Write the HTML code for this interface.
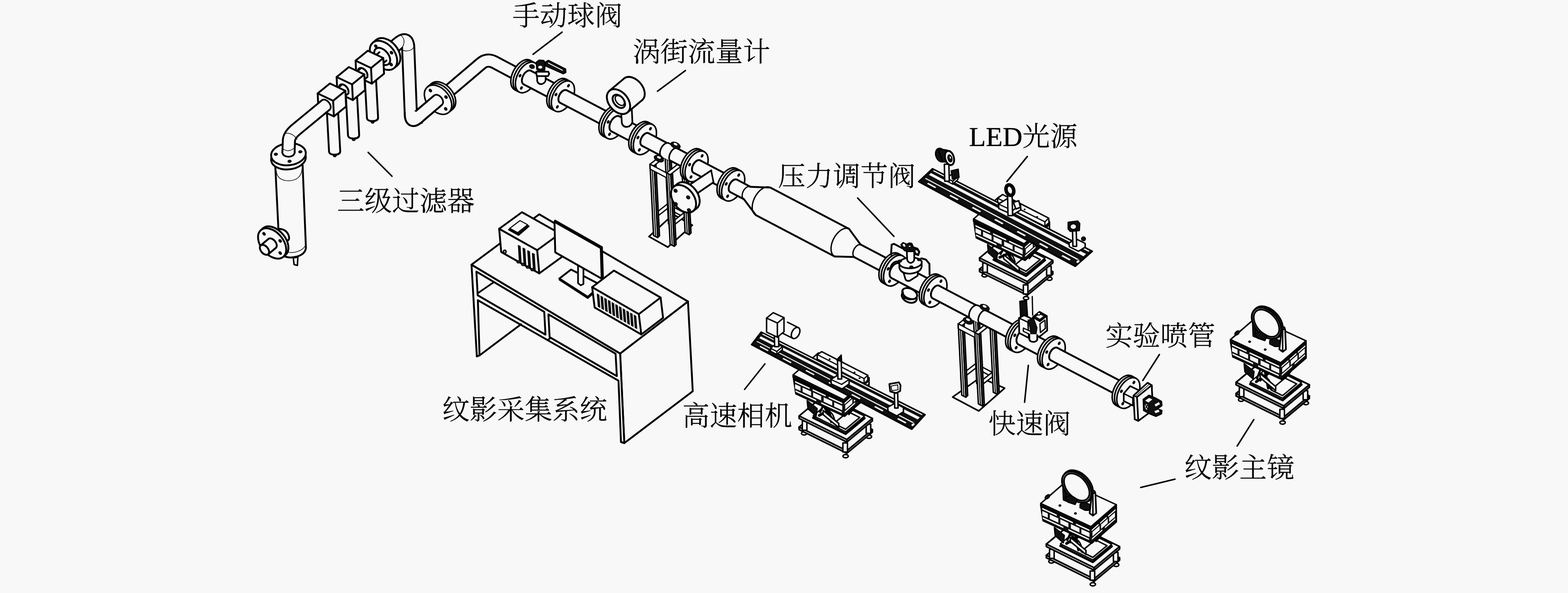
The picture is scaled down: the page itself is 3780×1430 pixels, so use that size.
<!DOCTYPE html>
<html lang="zh"><head><meta charset="utf-8"><title>纹影实验系统</title>
<style>html,body{margin:0;padding:0;background:#f8f8f8;}body{width:3780px;height:1430px;overflow:hidden;}svg{display:block;}text{font-family:"Liberation Serif","Noto Serif CJK SC",serif;font-weight:300;fill:#000;stroke:#000;stroke-width:0.45px;}</style></head>
<body>
<svg width="3780" height="1430" viewBox="0 0 3780 1430" fill="#f8f8f8" stroke="#000" stroke-width="4.5" stroke-linecap="round" stroke-linejoin="round">
<path d="M663.5 398 L673.5 600 Q676 621 702 621 Q735 618 737.5 598 L729.5 398 Z"/>
<path d="M674 600 Q690 612 712 608 Q732 603 737 590" fill="none" stroke-width="1.5"/>
<polygon points="707,622 709,638 717,640 718,620" stroke-width="3.5"/>
<path d="M666 412 Q668 436 697 436 Q726 434 728 408" fill="none" stroke-width="1.5"/>
<ellipse cx="695.4" cy="382" rx="42" ry="26.5" transform="rotate(-6 695.4 382)"/>
<ellipse cx="695.4" cy="372" rx="42" ry="26.5" transform="rotate(-6 695.4 372)"/>
<ellipse cx="665" cy="372" rx="4.2" ry="3" fill="#111" stroke-width="1.5" transform="rotate(-6 665 372)"/>
<ellipse cx="724" cy="366" rx="4.2" ry="3" fill="#111" stroke-width="1.5" transform="rotate(-6 724 366)"/>
<ellipse cx="698" cy="389" rx="4.2" ry="3" fill="#111" stroke-width="1.5" transform="rotate(-6 698 389)"/>
<path d="M672 552 Q690 552 696 568 Q700 582 688 580 L670 585 Z"/>
<ellipse cx="661.4" cy="582.5" rx="27" ry="42" transform="rotate(-40 661.4 582.5)"/>
<polygon points="688.4,614.7 683,619.2 629,554.8 634.3,550.3" stroke="none"/>
<path d="M688.4 614.7L683 619.2"/>
<path d="M634.3 550.3L629 554.8"/>
<ellipse cx="656" cy="587" rx="27" ry="42" transform="rotate(-40 656 587)"/>
<ellipse cx="636.5" cy="563.8" rx="2.8" ry="4" fill="#111" stroke-width="1.5" transform="rotate(-40 636.5 563.8)"/>
<ellipse cx="675.4" cy="580.9" rx="2.8" ry="4" fill="#111" stroke-width="1.5" transform="rotate(-40 675.4 580.9)"/>
<ellipse cx="675.5" cy="610.2" rx="2.8" ry="4" fill="#111" stroke-width="1.5" transform="rotate(-40 675.5 610.2)"/>
<ellipse cx="656" cy="587" rx="8.8" ry="14" transform="rotate(140 656 587)"/>
<polygon points="647,576.3 628.6,591.7 646.6,613.2 665,597.7" stroke="none"/>
<path d="M647 576.3L628.6 591.7"/>
<path d="M665 597.7L646.6 613.2"/>
<ellipse cx="637.6" cy="602.4" rx="8.8" ry="14" transform="rotate(140 637.6 602.4)"/>
<path d="M927 133 L958 106 Q982 85 984 113 L990.5 278 Q992 300 1012 279 L1056 241.5" fill="none" stroke="#000" stroke-width="33.9" stroke-linecap="butt"/>
<path d="M927 133 L958 106 Q982 85 984 113 L990.5 278 Q992 300 1012 279 L1056 241.5" fill="none" stroke="#f8f8f8" stroke-width="24.9" stroke-linecap="butt"/>
<path d="M965 84 Q981 96 969 116" fill="none" stroke-width="1.5"/>
<path d="M969 121 Q990 127 998 113" fill="none" stroke-width="1.5"/>
<path d="M977 283 Q992 290 1004 279" fill="none" stroke-width="1.5"/>
<path d="M1006 268 Q1022 280 1018 298" fill="none" stroke-width="1.5"/>
<ellipse cx="932.2" cy="127.1" rx="27" ry="40" transform="rotate(-40 932.2 127.1)"/>
<polygon points="957.9,157.7 950.2,164.1 898.8,102.9 906.4,96.4" stroke="none"/>
<path d="M957.9 157.7L950.2 164.1"/>
<path d="M906.4 96.4L898.8 102.9"/>
<ellipse cx="924.5" cy="133.5" rx="27" ry="40" transform="rotate(-40 924.5 133.5)"/>
<ellipse cx="906" cy="111.4" rx="3" ry="4" fill="#111" stroke-width="1.5" transform="rotate(-40 906 111.4)"/>
<ellipse cx="943.7" cy="127.1" rx="3" ry="4" fill="#111" stroke-width="1.5" transform="rotate(-40 943.7 127.1)"/>
<ellipse cx="943" cy="155.6" rx="3" ry="4" fill="#111" stroke-width="1.5" transform="rotate(-40 943 155.6)"/>
<ellipse cx="921.4" cy="136.1" rx="15" ry="24" transform="rotate(-40 921.4 136.1)"/>
<ellipse cx="898.3" cy="294" rx="4" ry="3.5" fill="#222" stroke-width="1.5"/>
<path d="M878.9 180.9 L884.5 284 Q885 292 898 292 Q911 292 911.5 284 L905.9 180.9"/>
<polygon points="914.6,160 931.5,145.9 914.7,125.9 897.9,140.1" stroke="none"/>
<path d="M914.6 160L931.5 145.9"/>
<path d="M897.9 140.1L914.7 125.9"/>
<polygon points="857.2,146.3 886.7,122.3 924,140 925.8,177.8 896.3,201.8 859,184.1"/>
<polyline points="857.2,146.3 894.5,164 924,140" fill="none"/>
<path d="M894.5 164L896.3 201.8"/>
<ellipse cx="874.5" cy="176" rx="9" ry="14" transform="rotate(-40 874.5 176)"/>
<ellipse cx="852.7" cy="336" rx="4" ry="3.5" fill="#222" stroke-width="1.5"/>
<path d="M833.2 220.4 L838.9 326 Q839.4 334 852.4 334 Q865.4 334 865.9 326 L860.2 220.4"/>
<polygon points="868.9,199.5 885.8,185.4 869,165.4 852.2,179.6" stroke="none"/>
<path d="M868.9 199.5L885.8 185.4"/>
<path d="M852.2 179.6L869 165.4"/>
<polygon points="811.5,185.8 841,161.8 878.3,179.5 880.1,217.3 850.6,241.3 813.3,223.6"/>
<polyline points="811.5,185.8 848.8,203.5 878.3,179.5" fill="none"/>
<path d="M848.8 203.5L850.6 241.3"/>
<ellipse cx="828.8" cy="215.5" rx="9" ry="14" transform="rotate(-40 828.8 215.5)"/>
<ellipse cx="807" cy="375" rx="4" ry="3.5" fill="#222" stroke-width="1.5"/>
<path d="M787.5 259.9 L793.2 365 Q793.7 373 806.7 373 Q819.7 373 820.2 365 L814.5 259.9"/>
<polygon points="823.2,239 840.1,224.9 823.3,204.9 806.5,219.1" stroke="none"/>
<path d="M823.2 239L840.1 224.9"/>
<path d="M806.5 219.1L823.3 204.9"/>
<polygon points="765.8,225.3 795.3,201.3 832.6,219 834.4,256.8 804.9,280.8 767.6,263.1"/>
<polyline points="765.8,225.3 803.1,243 832.6,219" fill="none"/>
<path d="M803.1 243L804.9 280.8"/>
<path d="M695.4 370 L696.5 338 Q698 325 714 312 L785.4 253.1" fill="none" stroke="#000" stroke-width="33.9" stroke-linecap="butt"/>
<path d="M695.4 370 L696.5 338 Q698 325 714 312 L785.4 253.1" fill="none" stroke="#f8f8f8" stroke-width="24.9" stroke-linecap="butt"/>
<ellipse stroke="none" cx="785.4" cy="253.1" rx="8" ry="12.5" stroke-width="0.1" transform="rotate(-40 785.4 253.1)"/>
<polyline points="775.3,242.4 776.3,241.5 777.4,240.8 778.7,240.4 780.2,240.2 781.7,240.3 783.3,240.6 784.9,241.2 786.6,241.9 788.2,242.9 789.8,244.1 791.3,245.4 792.6,246.9 793.9,248.5 794.9,250.2 795.8,252 796.5,253.8 797,255.5 797.2,257.2 797.3,258.8 797.1,260.4 796.6,261.7 796,263 795.2,264 794.1,264.8" fill="none" stroke-width="4"/>
<path d="M680.5 366 Q681 377 695.5 378 Q710 377 710.5 366" stroke-width="4.2"/>
<path d="M681 358 Q696 370 710 356" fill="none" stroke-width="1.5"/>
<path d="M685 322 Q704 318 716 336" fill="none" stroke-width="1.5"/>
<path d="M1056 241.5 L1160 153 Q1174.4 140.9 1192 150 L1257 184.5" fill="none" stroke="#000" stroke-width="33.9" stroke-linecap="butt"/>
<path d="M1056 241.5 L1160 153 Q1174.4 140.9 1192 150 L1257 184.5" fill="none" stroke="#f8f8f8" stroke-width="24.9" stroke-linecap="butt"/>
<ellipse cx="1065.6" cy="232.5" rx="27" ry="40" stroke-width="3.7" transform="rotate(-40 1065.6 232.5)"/>
<polygon points="1091.3,263.1 1081.7,271.1 1030.3,209.9 1039.8,201.8" stroke="none"/>
<path d="M1091.3 263.1L1081.7 271.1" stroke-width="3.7"/>
<path d="M1039.8 201.8L1030.3 209.9" stroke-width="3.7"/>
<ellipse cx="1060.8" cy="236.5" rx="27" ry="40" stroke-width="3.7" transform="rotate(-40 1060.8 236.5)"/>
<ellipse cx="1056" cy="240.5" rx="27" ry="40" stroke-width="3.7" transform="rotate(-40 1056 240.5)"/>
<ellipse cx="1037.5" cy="218.4" rx="3" ry="4" fill="#111" stroke-width="1.5" transform="rotate(-40 1037.5 218.4)"/>
<ellipse cx="1075.2" cy="234.1" rx="3" ry="4" fill="#111" stroke-width="1.5" transform="rotate(-40 1075.2 234.1)"/>
<ellipse cx="1074.5" cy="262.6" rx="3" ry="4" fill="#111" stroke-width="1.5" transform="rotate(-40 1074.5 262.6)"/>
<path d="M990.5 270 L990.7 278 Q992 300 1012 279 L1056 241.5" fill="none" stroke="#000" stroke-width="33.9" stroke-linecap="butt"/>
<path d="M990.5 270 L990.7 278 Q992 300 1012 279 L1056 241.5" fill="none" stroke="#f8f8f8" stroke-width="24.9" stroke-linecap="butt"/>
<ellipse cx="990.4" cy="270" rx="12.4" ry="2.5" stroke="none"/>
<ellipse stroke="none" cx="1056" cy="241.5" rx="8" ry="12.5" stroke-width="0.1" transform="rotate(-40 1056 241.5)"/>
<polyline points="1045.9,230.8 1046.9,229.9 1048.2,229.2 1049.5,228.8 1051,228.6 1052.6,228.6 1054.2,228.9 1055.9,229.4 1057.6,230.1 1059.2,231.1 1060.8,232.2 1062.3,233.6 1063.7,235.1 1064.9,236.7 1065.9,238.4 1066.8,240.1 1067.5,241.9 1067.9,243.7 1068.1,245.5 1068.1,247.1 1067.9,248.7 1067.4,250.1 1066.7,251.3 1065.8,252.4 1064.8,253.3" fill="none" stroke-width="4"/>
<polygon points="1243.6,191.8 1255.6,198.1 1271.4,168 1259.4,161.7" stroke="none"/>
<path d="M1243.6 191.8L1255.6 198.1"/>
<path d="M1259.4 161.7L1271.4 168"/>
<ellipse cx="1259.3" cy="180.9" rx="23.5" ry="40" stroke-width="3.7" transform="rotate(27.7 1259.3 180.9)"/>
<polygon points="1240.7,216.3 1251.8,222.1 1289,151.3 1277.9,145.5" stroke="none"/>
<path d="M1240.7 216.3L1251.8 222.1" stroke-width="3.7"/>
<path d="M1277.9 145.5L1289 151.3" stroke-width="3.7"/>
<ellipse cx="1264.9" cy="183.8" rx="23.5" ry="40" stroke-width="3.7" transform="rotate(27.7 1264.9 183.8)"/>
<ellipse cx="1270.4" cy="186.7" rx="23.5" ry="40" stroke-width="3.7" transform="rotate(27.7 1270.4 186.7)"/>
<ellipse cx="1253.7" cy="182.4" rx="2.3" ry="3.6" fill="#111" stroke-width="1.5" transform="rotate(27.7 1253.7 182.4)"/>
<ellipse cx="1257" cy="212.2" rx="2.3" ry="3.6" fill="#111" stroke-width="1.5" transform="rotate(27.7 1257 212.2)"/>
<ellipse cx="1282.5" cy="160.5" rx="6.5" ry="5" fill="#111" stroke-width="1" transform="rotate(20 1282.5 160.5)"/>
<ellipse cx="1271" cy="187" rx="10.9" ry="18.5" transform="rotate(27.7 1271 187)"/>
<polygon points="1262.4,203.4 1337.9,243 1355.1,210.3 1279.6,170.6" stroke="none"/>
<path d="M1262.4 203.4L1337.9 243"/>
<path d="M1279.6 170.6L1355.1 210.3"/>
<path d="M1294.5 172 L1295 195 Q1297 203 1305 203 Q1314 201 1315.5 193 L1315 172 Z" stroke-width="4"/>
<polygon points="1316,149 1322,145.5 1363.5,166.5 1364,174.5 1358,178 1313,158" fill="#111" stroke-width="3"/>
<path stroke="#f8f8f8" d="M1322 152L1356 169.5" stroke-width="2.2"/>
<polygon points="1292.5,173 1322,173 1324,178 1321,183.5 1294,183.5" stroke-width="4"/>
<polygon points="1293,150 1300,145 1311,146 1314,152 1313,168 1304,171 1294,167" fill="#111" stroke-width="3"/>
<ellipse cx="1302.5" cy="162" rx="5.5" ry="4" stroke-width="1"/>
<ellipse cx="1346" cy="226.4" rx="23.5" ry="40" stroke-width="3.7" transform="rotate(27.7 1346 226.4)"/>
<polygon points="1327.4,261.8 1338.5,267.6 1375.7,196.8 1364.6,191" stroke="none"/>
<path d="M1327.4 261.8L1338.5 267.6" stroke-width="3.7"/>
<path d="M1364.6 191L1375.7 196.8" stroke-width="3.7"/>
<ellipse cx="1351.6" cy="229.3" rx="23.5" ry="40" stroke-width="3.7" transform="rotate(27.7 1351.6 229.3)"/>
<ellipse cx="1357.1" cy="232.2" rx="23.5" ry="40" stroke-width="3.7" transform="rotate(27.7 1357.1 232.2)"/>
<ellipse cx="1370.5" cy="206.7" rx="2.3" ry="3.6" fill="#111" stroke-width="1.5" transform="rotate(27.7 1370.5 206.7)"/>
<ellipse cx="1340.4" cy="228" rx="2.3" ry="3.6" fill="#111" stroke-width="1.5" transform="rotate(27.7 1340.4 228)"/>
<ellipse cx="1343.7" cy="257.7" rx="2.3" ry="3.6" fill="#111" stroke-width="1.5" transform="rotate(27.7 1343.7 257.7)"/>
<ellipse cx="1358" cy="232.7" rx="10" ry="17" transform="rotate(27.7 1358 232.7)"/>
<polygon points="1350.1,247.7 1465.6,308.4 1481.4,278.3 1365.9,217.6" stroke="none"/>
<path d="M1350.1 247.7L1465.6 308.4"/>
<path d="M1365.9 217.6L1481.4 278.3"/>
<ellipse cx="1471.7" cy="292.4" rx="23.5" ry="40" stroke-width="3.7" transform="rotate(27.7 1471.7 292.4)"/>
<polygon points="1453.1,327.8 1464.2,333.6 1501.4,262.8 1490.3,257" stroke="none"/>
<path d="M1453.1 327.8L1464.2 333.6" stroke-width="3.7"/>
<path d="M1490.3 257L1501.4 262.8" stroke-width="3.7"/>
<ellipse cx="1477.3" cy="295.3" rx="23.5" ry="40" stroke-width="3.7" transform="rotate(27.7 1477.3 295.3)"/>
<ellipse cx="1482.8" cy="298.2" rx="23.5" ry="40" stroke-width="3.7" transform="rotate(27.7 1482.8 298.2)"/>
<ellipse cx="1466.1" cy="294" rx="2.3" ry="3.6" fill="#111" stroke-width="1.5" transform="rotate(27.7 1466.1 294)"/>
<ellipse cx="1469.4" cy="323.7" rx="2.3" ry="3.6" fill="#111" stroke-width="1.5" transform="rotate(27.7 1469.4 323.7)"/>
<ellipse cx="1483.5" cy="298.6" rx="12.1" ry="20.5" transform="rotate(27.7 1483.5 298.6)"/>
<polygon points="1474,316.7 1537,349.8 1556,313.5 1493,280.4" stroke="none"/>
<path d="M1474 316.7L1537 349.8"/>
<path d="M1493 280.4L1556 313.5"/>
<path d="M1497 262 L1499 296 Q1501 306 1511 306 L1516 305 Q1524 300 1524.5 294 L1523 262 Z" stroke-width="4"/>
<ellipse cx="1526.2" cy="215.4" rx="23" ry="34" transform="rotate(-40 1526.2 215.4)"/>
<polygon points="1512.9,271 1548.1,241.4 1504.4,189.4 1469.1,219" stroke="none"/>
<path d="M1512.9 271L1548.1 241.4"/>
<path d="M1469.1 219L1504.4 189.4"/>
<ellipse cx="1491" cy="245" rx="23" ry="34" transform="rotate(-40 1491 245)"/>
<ellipse cx="1491.8" cy="244.4" rx="12" ry="18.5" transform="rotate(-40 1491.8 244.4)"/>
<ellipse cx="1494.1" cy="242.4" rx="8.5" ry="14" stroke-width="3.2" transform="rotate(-40 1494.1 242.4)"/>
<ellipse cx="1543.6" cy="330.1" rx="23.5" ry="40" stroke-width="3.7" transform="rotate(27.7 1543.6 330.1)"/>
<polygon points="1525,365.5 1536.1,371.4 1573.3,300.5 1562.2,294.7" stroke="none"/>
<path d="M1525 365.5L1536.1 371.4" stroke-width="3.7"/>
<path d="M1562.2 294.7L1573.3 300.5" stroke-width="3.7"/>
<ellipse cx="1549.2" cy="333" rx="23.5" ry="40" stroke-width="3.7" transform="rotate(27.7 1549.2 333)"/>
<ellipse cx="1554.7" cy="335.9" rx="23.5" ry="40" stroke-width="3.7" transform="rotate(27.7 1554.7 335.9)"/>
<ellipse cx="1568.1" cy="310.4" rx="2.3" ry="3.6" fill="#111" stroke-width="1.5" transform="rotate(27.7 1568.1 310.4)"/>
<ellipse cx="1538" cy="331.7" rx="2.3" ry="3.6" fill="#111" stroke-width="1.5" transform="rotate(27.7 1538 331.7)"/>
<ellipse cx="1541.3" cy="361.4" rx="2.3" ry="3.6" fill="#111" stroke-width="1.5" transform="rotate(27.7 1541.3 361.4)"/>
<polygon points="1564.5,570.5 1610,596 1669,543 1623,517" stroke-width="3.8"/>
<polygon points="1603,368 1613,373 1621.6,545 1611.6,540" stroke-width="3.5"/>
<polygon points="1613,373 1617.5,369 1626.1,541 1621.6,545" fill="#333" stroke-width="3"/>
<path d="M1608 372L1616.6 542" stroke-width="2.5"/>
<polygon points="1643,389 1653,394 1661.6,566 1651.6,561" stroke-width="3.5"/>
<polygon points="1653,394 1657.5,390 1666.1,562 1661.6,566" fill="#333" stroke-width="3"/>
<path d="M1648 393L1656.6 563" stroke-width="2.5"/>
<polygon points="1603,368 1643,389 1643,400 1603,379" stroke-width="3"/>
<polygon points="1567,396 1603,368 1603,379 1567,407" stroke-width="3"/>
<polygon points="1607,417 1643,389 1643,400 1607,428" stroke-width="3"/>
<polygon points="1609.2,491.8 1649.2,512.8 1649.2,523.8 1609.2,502.8" stroke-width="3"/>
<polygon points="1573.2,519.8 1609.2,491.8 1609.2,502.8 1573.2,530.8" stroke-width="3"/>
<polygon points="1613.2,540.8 1649.2,512.8 1649.2,523.8 1613.2,551.8" stroke-width="3"/>
<polygon points="1567,396 1577,401 1585.6,573 1575.6,568" stroke-width="3.5"/>
<polygon points="1577,401 1581.5,397 1590.1,569 1585.6,573" fill="#333" stroke-width="3"/>
<path d="M1572 400L1580.6 570" stroke-width="2.5"/>
<polygon points="1607,417 1617,422 1625.6,594 1615.6,589" stroke-width="3.5"/>
<polygon points="1617,422 1621.5,418 1630.1,590 1625.6,594" fill="#333" stroke-width="3"/>
<path d="M1612 421L1620.6 591" stroke-width="2.5"/>
<polygon points="1567,396 1607,417 1607.6,429 1567.6,408" stroke-width="3"/>
<ellipse cx="1555.5" cy="336.4" rx="10" ry="17" transform="rotate(27.7 1555.5 336.4)"/>
<polygon points="1547.6,351.4 1661.6,411.3 1677.4,381.2 1563.4,321.3" stroke="none"/>
<path d="M1547.6 351.4L1661.6 411.3"/>
<path d="M1563.4 321.3L1677.4 381.2"/>
<polyline points="1595.4,378.2 1594.2,377.4 1593.2,376.3 1592.3,375 1591.7,373.5 1591.2,371.7 1591,369.8 1591,367.7 1591.3,365.6 1591.7,363.4 1592.4,361.1 1593.2,358.9 1594.3,356.7 1595.5,354.6 1596.8,352.6 1598.3,350.8 1599.9,349.2 1601.5,347.8 1603.2,346.6 1604.9,345.7 1606.6,345.1 1608.2,344.7 1609.8,344.7 1611.3,344.9 1612.6,345.4" fill="none" stroke-width="3.6"/>
<polyline points="1617.4,389.8 1616.2,388.9 1615.2,387.9 1614.3,386.5 1613.7,385 1613.2,383.3 1613,381.3 1613,379.3 1613.3,377.1 1613.7,374.9 1614.4,372.7 1615.2,370.4 1616.3,368.3 1617.5,366.2 1618.8,364.2 1620.3,362.4 1621.9,360.8 1623.5,359.3 1625.2,358.2 1626.9,357.3 1628.6,356.6 1630.2,356.3 1631.8,356.2 1633.3,356.5 1634.6,357" fill="none" stroke-width="3.6"/>
<polygon points="1593.8,377.1 1593,376 1592.2,374.8 1591.7,373.5 1591.3,371.9 1591.1,370.2 1591,368.4 1591.1,366.6 1591.4,364.6 1591.9,362.6 1592.5,360.6 1593.3,358.6 1594.3,356.7 1595.3,354.8 1596.5,353.1 1597.8,351.4 1599.2,349.9 1600.6,348.5 1602.1,347.4 1603.6,346.4 1605.1,345.6 1606.6,345.1 1608,344.8 1609.4,344.7 1610.8,344.8 1632.8,356.4 1631.4,356.2 1630,356.3 1628.6,356.6 1627.1,357.2 1625.6,357.9 1624.1,358.9 1622.6,360.1 1621.2,361.5 1619.8,363 1618.5,364.6 1617.3,366.4 1616.3,368.3 1615.3,370.2 1614.5,372.2 1613.9,374.2 1613.4,376.2 1613.1,378.1 1613,380 1613.1,381.8 1613.3,383.5 1613.7,385 1614.2,386.4 1615,387.6 1615.8,388.6" stroke="none"/>
<polyline points="1595.4,378.2 1594.2,377.4 1593.2,376.3 1592.3,375 1591.7,373.5 1591.2,371.7 1591,369.8 1591,367.7 1591.3,365.6 1591.7,363.4 1592.4,361.1 1593.2,358.9 1594.3,356.7 1595.5,354.6 1596.8,352.6 1598.3,350.8 1599.9,349.2 1601.5,347.8 1603.2,346.6 1604.9,345.7 1606.6,345.1 1608.2,344.7 1609.8,344.7 1611.3,344.9 1612.6,345.4" fill="none" stroke-width="3.6"/>
<polyline points="1617.4,389.8 1616.2,388.9 1615.2,387.9 1614.3,386.5 1613.7,385 1613.2,383.3 1613,381.3 1613,379.3 1613.3,377.1 1613.7,374.9 1614.4,372.7 1615.2,370.4 1616.3,368.3 1617.5,366.2 1618.8,364.2 1620.3,362.4 1621.9,360.8 1623.5,359.3 1625.2,358.2 1626.9,357.3 1628.6,356.6 1630.2,356.3 1631.8,356.2 1633.3,356.5 1634.6,357" fill="none" stroke-width="3.6"/>
<path d="M1612.6 345.4L1634.6 357" stroke-width="3.6"/>
<ellipse cx="1628.5" cy="350.6" rx="12" ry="7" fill="#111" stroke-width="2" transform="rotate(25 1628.5 350.6)"/>
<ellipse cx="1628.5" cy="347.6" rx="5.5" ry="3.2" stroke-width="1" transform="rotate(25 1628.5 347.6)"/>
<ellipse cx="1588.5" cy="382.6" rx="12" ry="7" fill="#111" stroke-width="2" transform="rotate(25 1588.5 382.6)"/>
<ellipse cx="1588.5" cy="379.6" rx="5.5" ry="3.2" stroke-width="1" transform="rotate(25 1588.5 379.6)"/>
<ellipse cx="1668.1" cy="395.5" rx="23.5" ry="40" stroke-width="3.7" transform="rotate(27.7 1668.1 395.5)"/>
<polygon points="1649.5,430.9 1660.6,436.7 1697.8,365.9 1686.7,360.1" stroke="none"/>
<path d="M1649.5 430.9L1660.6 436.7" stroke-width="3.7"/>
<path d="M1686.7 360.1L1697.8 365.9" stroke-width="3.7"/>
<ellipse cx="1673.7" cy="398.4" rx="23.5" ry="40" stroke-width="3.7" transform="rotate(27.7 1673.7 398.4)"/>
<ellipse cx="1679.2" cy="401.3" rx="23.5" ry="40" stroke-width="3.7" transform="rotate(27.7 1679.2 401.3)"/>
<ellipse cx="1692.6" cy="375.8" rx="2.3" ry="3.6" fill="#111" stroke-width="1.5" transform="rotate(27.7 1692.6 375.8)"/>
<ellipse cx="1662.5" cy="397.1" rx="2.3" ry="3.6" fill="#111" stroke-width="1.5" transform="rotate(27.7 1662.5 397.1)"/>
<ellipse cx="1665.8" cy="426.8" rx="2.3" ry="3.6" fill="#111" stroke-width="1.5" transform="rotate(27.7 1665.8 426.8)"/>
<ellipse cx="1680" cy="401.7" rx="10" ry="17" transform="rotate(27.7 1680 401.7)"/>
<polygon points="1672.1,416.8 1750.6,458 1766.4,427.9 1687.9,386.7" stroke="none"/>
<path d="M1672.1 416.8L1750.6 458"/>
<path d="M1687.9 386.7L1766.4 427.9"/>
<polygon points="1714.5,411 1661,446.5 1677,469 1720,439.5" stroke="none"/>
<path d="M1714.5 411L1661 446.5"/>
<path d="M1720 439.5L1677 469"/>
<path d="M1714.5 411L1720 439.5" stroke-width="3.8"/>
<ellipse cx="1656.5" cy="472.7" rx="25" ry="37.5" transform="rotate(-37.6 1656.5 472.7)"/>
<polygon points="1679.4,502.4 1670.7,509.1 1624.9,449.7 1633.6,443" stroke="none"/>
<path d="M1679.4 502.4L1670.7 509.1"/>
<path d="M1633.6 443L1624.9 449.7"/>
<ellipse cx="1647.8" cy="479.4" rx="25" ry="37.5" transform="rotate(-37.6 1647.8 479.4)"/>
<ellipse cx="1628.5" cy="460" rx="4.8" ry="4" fill="#111" stroke-width="1" transform="rotate(40 1628.5 460)"/>
<ellipse cx="1659" cy="476" rx="4.8" ry="4" fill="#111" stroke-width="1" transform="rotate(40 1659 476)"/>
<ellipse cx="1629" cy="492" rx="4.8" ry="4" fill="#111" stroke-width="1" transform="rotate(40 1629 492)"/>
<ellipse cx="1661" cy="507" rx="4.8" ry="4" fill="#111" stroke-width="1" transform="rotate(40 1661 507)"/>
<ellipse cx="1756.4" cy="441.8" rx="23.5" ry="40" stroke-width="3.7" transform="rotate(27.7 1756.4 441.8)"/>
<polygon points="1737.8,477.3 1748.9,483.1 1786.1,412.2 1775,406.4" stroke="none"/>
<path d="M1737.8 477.3L1748.9 483.1" stroke-width="3.7"/>
<path d="M1775 406.4L1786.1 412.2" stroke-width="3.7"/>
<ellipse cx="1762" cy="444.8" rx="23.5" ry="40" stroke-width="3.7" transform="rotate(27.7 1762 444.8)"/>
<ellipse cx="1767.5" cy="447.7" rx="23.5" ry="40" stroke-width="3.7" transform="rotate(27.7 1767.5 447.7)"/>
<ellipse cx="1780.9" cy="422.2" rx="2.3" ry="3.6" fill="#111" stroke-width="1.5" transform="rotate(27.7 1780.9 422.2)"/>
<ellipse cx="1750.8" cy="443.4" rx="2.3" ry="3.6" fill="#111" stroke-width="1.5" transform="rotate(27.7 1750.8 443.4)"/>
<ellipse cx="1754.1" cy="473.2" rx="2.3" ry="3.6" fill="#111" stroke-width="1.5" transform="rotate(27.7 1754.1 473.2)"/>
<ellipse cx="1768.5" cy="448.2" rx="10" ry="17" transform="rotate(27.7 1768.5 448.2)"/>
<polygon points="1760.6,463.2 1793.6,480.6 1809.4,450.5 1776.4,433.1" stroke="none"/>
<path d="M1760.6 463.2L1793.6 480.6"/>
<path d="M1776.4 433.1L1809.4 450.5"/>
<polygon points="1808.2,450.4 1856.9,452.3 1822.1,518.7 1792.8,479.6" stroke="none"/>
<polyline points="1792.8,479.6 1791.8,478.9 1790.9,478 1790.2,476.8 1789.7,475.4 1789.3,473.9 1789.1,472.2 1789.2,470.4 1789.4,468.5 1789.8,466.5 1790.4,464.5 1791.2,462.5 1792.1,460.6 1793.2,458.7 1794.4,456.9 1795.7,455.3 1797.1,453.9 1798.5,452.6 1800,451.5 1801.5,450.7 1802.9,450.1 1804.4,449.8 1805.7,449.7 1807,449.9 1808.2,450.4" fill="none" stroke-width="3"/>
<path d="M1808.2 450.4L1856.9 452.3"/>
<path d="M1792.8 479.6L1822.1 518.7"/>
<polygon points="1856.9,452.3 2046.9,552 2012.1,618.4 1822.1,518.7" stroke="none"/>
<polyline points="1822.1,518.7 1819.7,517 1817.6,514.9 1815.9,512.2 1814.7,509.1 1813.8,505.6 1813.4,501.7 1813.4,497.6 1813.9,493.2 1814.8,488.7 1816.2,484.2 1817.9,479.7 1820,475.2 1822.5,471 1825.2,467 1828.2,463.3 1831.3,460 1834.7,457.1 1838.1,454.8 1841.5,452.9 1844.9,451.6 1848.2,450.9 1851.3,450.7 1854.2,451.2 1856.9,452.3" fill="none" stroke-width="3.2"/>
<path d="M1856.9 452.3L2046.9 552"/>
<path d="M1822.1 518.7L2012.1 618.4"/>
<polygon points="2046.9,552 2075.2,590.6 2059.8,619.8 2012.1,618.4" stroke="none"/>
<polyline points="2012.1,618.4 2009.7,616.8 2007.6,614.6 2005.9,612 2004.7,608.9 2003.8,605.3 2003.4,601.5 2003.4,597.3 2003.9,593 2004.8,588.5 2006.2,583.9 2007.9,579.4 2010,575 2012.5,570.7 2015.2,566.7 2018.2,563.1 2021.3,559.8 2024.7,556.9 2028.1,554.5 2031.5,552.6 2034.9,551.3 2038.2,550.6 2041.3,550.5 2044.2,551 2046.9,552" fill="none" stroke-width="3.2"/>
<path d="M2046.9 552L2075.2 590.6"/>
<path d="M2012.1 618.4L2059.8 619.8"/>
<polygon points="2059.6,620.2 2140.6,662.7 2156.4,632.6 2075.4,590.1" stroke="none"/>
<path d="M2059.6 620.2L2140.6 662.7"/>
<path d="M2075.4 590.1L2156.4 632.6"/>
<polyline points="2059.8,619.8 2058.8,619.1 2057.9,618.1 2057.2,617 2056.7,615.6 2056.3,614.1 2056.1,612.4 2056.2,610.6 2056.4,608.6 2056.8,606.7 2057.4,604.7 2058.2,602.7 2059.1,600.7 2060.2,598.9 2061.4,597.1 2062.7,595.5 2064.1,594 2065.5,592.8 2067,591.7 2068.5,590.9 2069.9,590.3 2071.4,590 2072.7,589.9 2074,590.1 2075.2,590.6" fill="none" stroke-width="3.2"/>
<ellipse cx="2146.7" cy="646.8" rx="23.5" ry="40" stroke-width="3.7" transform="rotate(27.7 2146.7 646.8)"/>
<polygon points="2128.1,682.2 2139.2,688 2176.4,617.2 2165.3,611.3" stroke="none"/>
<path d="M2128.1 682.2L2139.2 688" stroke-width="3.7"/>
<path d="M2165.3 611.3L2176.4 617.2" stroke-width="3.7"/>
<ellipse cx="2152.3" cy="649.7" rx="23.5" ry="40" stroke-width="3.7" transform="rotate(27.7 2152.3 649.7)"/>
<ellipse cx="2157.8" cy="652.6" rx="23.5" ry="40" stroke-width="3.7" transform="rotate(27.7 2157.8 652.6)"/>
<ellipse cx="2141.1" cy="648.3" rx="2.3" ry="3.6" fill="#111" stroke-width="1.5" transform="rotate(27.7 2141.1 648.3)"/>
<ellipse cx="2144.4" cy="678.1" rx="2.3" ry="3.6" fill="#111" stroke-width="1.5" transform="rotate(27.7 2144.4 678.1)"/>
<ellipse cx="2192" cy="716" rx="19" ry="13" transform="rotate(25 2192 716)"/>
<ellipse cx="2193" cy="708" rx="19" ry="12" transform="rotate(25 2193 708)"/>
<polyline points="2176,700 2180,722" fill="none" stroke-width="3.5"/>
<path d="M2178 716 Q2192 728 2208 718" fill="none" stroke-width="3.2"/>
<polyline points="2148,614 2149.5,590 2155,588 2178,600" fill="none"/>
<polyline points="2221,623 2232,626 2240.5,636 2241,662" fill="none"/>
<ellipse cx="2158.5" cy="652.9" rx="11.8" ry="20" transform="rotate(27.7 2158.5 652.9)"/>
<polygon points="2149.2,670.6 2236.2,716.3 2254.8,680.9 2167.8,635.2" stroke="none"/>
<path d="M2149.2 670.6L2236.2 716.3"/>
<path d="M2167.8 635.2L2254.8 680.9"/>
<path d="M2146 648 Q2150 630 2166 630 L2176 634" fill="none" stroke-width="4"/>
<path d="M2168 644 Q2170 660 2194.5 660 Q2222 657 2222 640 L2222 630 L2168 632 Z" stroke-width="4"/>
<path d="M2178 657 L2183 674 Q2187 679 2193 677 L2212 665 L2213 656" stroke-width="4"/>
<path d="M2168 644 Q2170 660 2194.5 660 Q2222 657 2222 640" stroke-width="4"/>
<ellipse cx="2195" cy="634" rx="27" ry="13" stroke-width="4" transform="rotate(-3 2195 634)"/>
<ellipse cx="2169.5" cy="629.5" rx="4.5" ry="3.2" fill="#111" stroke-width="1"/>
<ellipse cx="2197" cy="644" rx="4.5" ry="3.2" fill="#111" stroke-width="1"/>
<ellipse cx="2215.5" cy="626" rx="4.5" ry="3.2" fill="#111" stroke-width="1"/>
<path d="M2186 606 L2187 627 Q2190 634 2196 634 Q2203 632 2204 626 L2204 606 Z" stroke-width="4"/>
<polygon points="2176,598 2172,590 2177,585 2186,589 2192,586 2198,587 2202,596 2212,599 2217,607 2214,616 2206,613 2203,606 2186,606 2180,604" fill="#111" stroke-width="3"/>
<ellipse cx="2179.5" cy="591.5" rx="3.2" ry="4.5" stroke-width="1" transform="rotate(-30 2179.5 591.5)"/>
<ellipse cx="2210" cy="607" rx="3" ry="4.5" stroke-width="1" transform="rotate(-30 2210 607)"/>
<ellipse cx="2193" cy="594" rx="3" ry="2" stroke-width="1"/>
<ellipse cx="2243.9" cy="697.8" rx="23.5" ry="40" stroke-width="3.7" transform="rotate(27.7 2243.9 697.8)"/>
<polygon points="2225.3,733.2 2236.4,739 2273.6,668.2 2262.5,662.4" stroke="none"/>
<path d="M2225.3 733.2L2236.4 739" stroke-width="3.7"/>
<path d="M2262.5 662.4L2273.6 668.2" stroke-width="3.7"/>
<ellipse cx="2249.5" cy="700.7" rx="23.5" ry="40" stroke-width="3.7" transform="rotate(27.7 2249.5 700.7)"/>
<ellipse cx="2255" cy="703.6" rx="23.5" ry="40" stroke-width="3.7" transform="rotate(27.7 2255 703.6)"/>
<ellipse cx="2268.4" cy="678.1" rx="2.3" ry="3.6" fill="#111" stroke-width="1.5" transform="rotate(27.7 2268.4 678.1)"/>
<ellipse cx="2238.3" cy="699.4" rx="2.3" ry="3.6" fill="#111" stroke-width="1.5" transform="rotate(27.7 2238.3 699.4)"/>
<ellipse cx="2241.6" cy="729.1" rx="2.3" ry="3.6" fill="#111" stroke-width="1.5" transform="rotate(27.7 2241.6 729.1)"/>
<polygon points="2296.5,957.5 2359.5,991 2422,936 2363,910.5" stroke-width="3.8"/>
<polygon points="2346,753 2356,758 2364.6,930 2354.6,925" stroke-width="3.5"/>
<polygon points="2356,758 2360.5,754 2369.1,926 2364.6,930" fill="#333" stroke-width="3"/>
<path d="M2351 757L2359.6 927" stroke-width="2.5"/>
<polygon points="2386,774 2396,779 2404.6,951 2394.6,946" stroke-width="3.5"/>
<polygon points="2396,779 2400.5,775 2409.1,947 2404.6,951" fill="#333" stroke-width="3"/>
<path d="M2391 778L2399.6 948" stroke-width="2.5"/>
<polygon points="2346,753 2386,774 2386,785 2346,764" stroke-width="3"/>
<polygon points="2310,781 2346,753 2346,764 2310,792" stroke-width="3"/>
<polygon points="2350,802 2386,774 2386,785 2350,813" stroke-width="3"/>
<polygon points="2352.2,876.8 2392.2,897.8 2392.2,908.8 2352.2,887.8" stroke-width="3"/>
<polygon points="2316.2,904.8 2352.2,876.8 2352.2,887.8 2316.2,915.8" stroke-width="3"/>
<polygon points="2356.2,925.8 2392.2,897.8 2392.2,908.8 2356.2,936.8" stroke-width="3"/>
<polygon points="2310,781 2320,786 2328.6,958 2318.6,953" stroke-width="3.5"/>
<polygon points="2320,786 2324.5,782 2333.1,954 2328.6,958" fill="#333" stroke-width="3"/>
<path d="M2315 785L2323.6 955" stroke-width="2.5"/>
<polygon points="2350,802 2360,807 2368.6,979 2358.6,974" stroke-width="3.5"/>
<polygon points="2360,807 2364.5,803 2373.1,975 2368.6,979" fill="#333" stroke-width="3"/>
<path d="M2355 806L2363.6 976" stroke-width="2.5"/>
<polygon points="2310,781 2350,802 2350.6,814 2310.6,793" stroke-width="3"/>
<ellipse cx="2256" cy="704.1" rx="10" ry="17" transform="rotate(27.7 2256 704.1)"/>
<polygon points="2248.1,719.2 2445.6,822.9 2461.4,792.8 2263.9,689.1" stroke="none"/>
<path d="M2248.1 719.2L2445.6 822.9"/>
<path d="M2263.9 689.1L2461.4 792.8"/>
<polyline points="2340.5,769.4 2339.3,768.6 2338.3,767.5 2337.4,766.2 2336.8,764.6 2336.3,762.9 2336.1,761 2336.1,758.9 2336.4,756.8 2336.8,754.5 2337.5,752.3 2338.3,750.1 2339.4,747.9 2340.6,745.8 2341.9,743.8 2343.4,742 2345,740.4 2346.6,739 2348.3,737.8 2350,736.9 2351.7,736.3 2353.3,735.9 2354.9,735.9 2356.4,736.1 2357.7,736.6" fill="none" stroke-width="3.6"/>
<polyline points="2362.5,780.9 2361.3,780.1 2360.3,779 2359.4,777.7 2358.8,776.2 2358.3,774.4 2358.1,772.5 2358.1,770.5 2358.4,768.3 2358.8,766.1 2359.5,763.9 2360.3,761.6 2361.4,759.4 2362.6,757.3 2363.9,755.4 2365.4,753.6 2367,751.9 2368.6,750.5 2370.3,749.4 2372,748.4 2373.7,747.8 2375.3,747.5 2376.9,747.4 2378.4,747.6 2379.7,748.2" fill="none" stroke-width="3.6"/>
<polygon points="2338.9,768.2 2338.1,767.2 2337.3,766 2336.8,764.6 2336.4,763.1 2336.2,761.4 2336.1,759.6 2336.2,757.7 2336.5,755.8 2337,753.8 2337.6,751.8 2338.4,749.8 2339.4,747.9 2340.4,746 2341.6,744.2 2342.9,742.6 2344.3,741.1 2345.7,739.7 2347.2,738.6 2348.7,737.6 2350.2,736.8 2351.7,736.3 2353.1,735.9 2354.5,735.8 2355.9,736 2377.9,747.5 2376.5,747.4 2375.1,747.5 2373.7,747.8 2372.2,748.4 2370.7,749.1 2369.2,750.1 2367.7,751.3 2366.3,752.6 2364.9,754.1 2363.6,755.8 2362.4,757.6 2361.4,759.4 2360.4,761.4 2359.6,763.4 2359,765.3 2358.5,767.3 2358.2,769.3 2358.1,771.2 2358.2,773 2358.4,774.6 2358.8,776.2 2359.3,777.6 2360.1,778.8 2360.9,779.8" stroke="none"/>
<polyline points="2340.5,769.4 2339.3,768.6 2338.3,767.5 2337.4,766.2 2336.8,764.6 2336.3,762.9 2336.1,761 2336.1,758.9 2336.4,756.8 2336.8,754.5 2337.5,752.3 2338.3,750.1 2339.4,747.9 2340.6,745.8 2341.9,743.8 2343.4,742 2345,740.4 2346.6,739 2348.3,737.8 2350,736.9 2351.7,736.3 2353.3,735.9 2354.9,735.9 2356.4,736.1 2357.7,736.6" fill="none" stroke-width="3.6"/>
<polyline points="2362.5,780.9 2361.3,780.1 2360.3,779 2359.4,777.7 2358.8,776.2 2358.3,774.4 2358.1,772.5 2358.1,770.5 2358.4,768.3 2358.8,766.1 2359.5,763.9 2360.3,761.6 2361.4,759.4 2362.6,757.3 2363.9,755.4 2365.4,753.6 2367,751.9 2368.6,750.5 2370.3,749.4 2372,748.4 2373.7,747.8 2375.3,747.5 2376.9,747.4 2378.4,747.6 2379.7,748.2" fill="none" stroke-width="3.6"/>
<path d="M2357.7 736.6L2379.7 748.2" stroke-width="3.6"/>
<ellipse cx="2373.6" cy="741.8" rx="12" ry="7" fill="#111" stroke-width="2" transform="rotate(25 2373.6 741.8)"/>
<ellipse cx="2373.6" cy="738.8" rx="5.5" ry="3.2" stroke-width="1" transform="rotate(25 2373.6 738.8)"/>
<ellipse cx="2333.6" cy="773.8" rx="12" ry="7" fill="#111" stroke-width="2" transform="rotate(25 2333.6 773.8)"/>
<ellipse cx="2333.6" cy="770.8" rx="5.5" ry="3.2" stroke-width="1" transform="rotate(25 2333.6 770.8)"/>
<ellipse cx="2452" cy="807" rx="23.5" ry="40" stroke-width="3.7" transform="rotate(27.7 2452 807)"/>
<polygon points="2433.4,842.5 2444.5,848.3 2481.7,777.4 2470.6,771.6" stroke="none"/>
<path d="M2433.4 842.5L2444.5 848.3" stroke-width="3.7"/>
<path d="M2470.6 771.6L2481.7 777.4" stroke-width="3.7"/>
<ellipse cx="2457.6" cy="809.9" rx="23.5" ry="40" stroke-width="3.7" transform="rotate(27.7 2457.6 809.9)"/>
<ellipse cx="2463.1" cy="812.8" rx="23.5" ry="40" stroke-width="3.7" transform="rotate(27.7 2463.1 812.8)"/>
<ellipse cx="2446.4" cy="808.6" rx="2.3" ry="3.6" fill="#111" stroke-width="1.5" transform="rotate(27.7 2446.4 808.6)"/>
<ellipse cx="2449.7" cy="838.3" rx="2.3" ry="3.6" fill="#111" stroke-width="1.5" transform="rotate(27.7 2449.7 838.3)"/>
<ellipse cx="2464" cy="813.3" rx="11.5" ry="19.5" transform="rotate(27.7 2464 813.3)"/>
<polygon points="2454.9,830.6 2522.4,866 2540.6,831.5 2473.1,796.1" stroke="none"/>
<path d="M2454.9 830.6L2522.4 866"/>
<path d="M2473.1 796.1L2540.6 831.5"/>
<path d="M2488.5 715L2489.5 760" stroke-width="3"/>
<polygon points="2459,727 2474,725 2477,768 2461,768" fill="#111" stroke-width="4"/>
<ellipse cx="2461.5" cy="745" rx="3" ry="3.5" fill="#111" stroke-width="1"/>
<polygon points="2456.5,767 2469,760 2490,770 2490,812 2480,815 2457,803" stroke-width="4"/>
<polyline points="2456.5,767 2478,777 2490,770" fill="none" stroke-width="3.5"/>
<path d="M2478 777L2480 815" stroke-width="3.5"/>
<polygon points="2467,791 2486,800 2486,808 2467,799" stroke-width="3"/>
<polygon points="2490,765 2506,752 2523.5,762 2524.5,797 2507,811 2490,812" stroke-width="4"/>
<polygon points="2490,765 2506,752 2523.5,762 2507,775" fill="#111" stroke-width="3.5"/>
<polygon points="2497,763.5 2506,757 2516,762.5 2507,769" stroke-width="1"/>
<ellipse cx="2504.5" cy="756.5" rx="4" ry="3.2" stroke-width="2.5"/>
<polygon points="2478,772 2492,768 2500,790 2497,812 2486,812 2483,790" fill="#111" stroke-width="2"/>
<polygon points="2507,781 2519,772 2520,792 2508,802" stroke-width="3"/>
<ellipse cx="2491" cy="818" rx="9.5" ry="6.5" stroke-width="4"/>
<polygon points="2482,806 2500,806 2500,818 2482,818" stroke="none"/>
<path d="M2481.5 808L2481.5 818" stroke-width="4"/>
<path d="M2500.5 808L2500.5 818" stroke-width="4"/>
<ellipse cx="2529" cy="847.5" rx="23.5" ry="40" stroke-width="3.7" transform="rotate(27.7 2529 847.5)"/>
<polygon points="2510.4,882.9 2521.5,888.7 2558.7,817.9 2547.6,812" stroke="none"/>
<path d="M2510.4 882.9L2521.5 888.7" stroke-width="3.7"/>
<path d="M2547.6 812L2558.7 817.9" stroke-width="3.7"/>
<ellipse cx="2534.6" cy="850.4" rx="23.5" ry="40" stroke-width="3.7" transform="rotate(27.7 2534.6 850.4)"/>
<ellipse cx="2540.1" cy="853.3" rx="23.5" ry="40" stroke-width="3.7" transform="rotate(27.7 2540.1 853.3)"/>
<ellipse cx="2553.5" cy="827.8" rx="2.3" ry="3.6" fill="#111" stroke-width="1.5" transform="rotate(27.7 2553.5 827.8)"/>
<ellipse cx="2523.4" cy="849" rx="2.3" ry="3.6" fill="#111" stroke-width="1.5" transform="rotate(27.7 2523.4 849)"/>
<ellipse cx="2526.7" cy="878.8" rx="2.3" ry="3.6" fill="#111" stroke-width="1.5" transform="rotate(27.7 2526.7 878.8)"/>
<ellipse cx="2541" cy="853.7" rx="10" ry="17" transform="rotate(27.7 2541 853.7)"/>
<polygon points="2533.1,868.8 2702.6,957.8 2718.4,927.7 2548.9,838.7" stroke="none"/>
<path d="M2533.1 868.8L2702.6 957.8"/>
<path d="M2548.9 838.7L2718.4 927.7"/>
<ellipse cx="2709" cy="942" rx="23.5" ry="40" stroke-width="3.7" transform="rotate(27.7 2709 942)"/>
<polygon points="2690.4,977.4 2701.5,983.2 2738.7,912.4 2727.6,906.5" stroke="none"/>
<path d="M2690.4 977.4L2701.5 983.2" stroke-width="3.7"/>
<path d="M2727.6 906.5L2738.7 912.4" stroke-width="3.7"/>
<ellipse cx="2714.6" cy="944.9" rx="23.5" ry="40" stroke-width="3.7" transform="rotate(27.7 2714.6 944.9)"/>
<ellipse cx="2720.1" cy="947.8" rx="23.5" ry="40" stroke-width="3.7" transform="rotate(27.7 2720.1 947.8)"/>
<ellipse cx="2733.5" cy="922.3" rx="2.3" ry="3.6" fill="#111" stroke-width="1.5" transform="rotate(27.7 2733.5 922.3)"/>
<ellipse cx="2703.4" cy="943.5" rx="2.3" ry="3.6" fill="#111" stroke-width="1.5" transform="rotate(27.7 2703.4 943.5)"/>
<ellipse cx="2706.7" cy="973.3" rx="2.3" ry="3.6" fill="#111" stroke-width="1.5" transform="rotate(27.7 2706.7 973.3)"/>
<polygon points="2709,949 2724.5,931 2745,941 2745,975 2731,978 2709,967" stroke-width="4"/>
<polyline points="2709,949 2731,960 2745,945" fill="none" stroke-width="3.5"/>
<path d="M2731 960L2731 978" stroke-width="3.5"/>
<polygon points="2732.5,954 2766.5,923 2776.5,929 2779,989 2744,1015 2735.5,1011" stroke-width="4"/>
<polygon points="2741,957.5 2776.5,929 2779,989 2744,1015" stroke-width="4"/>
<path d="M2732.5 954L2741 957.5" stroke-width="3.5"/>
<path d="M2735.5 1011L2744 1015" stroke-width="3.5"/>
<path d="M2736.8 955.8L2771.5 926" stroke-width="1.5"/>
<polygon points="2756,963 2770,953 2786,960 2800,968 2801,978 2790,986 2801,990 2800,998 2787,1004 2772,998 2757,990" fill="#111" stroke-width="3"/>
<polygon points="2760,966 2770,959 2779,963 2769,971" stroke-width="1"/>
<polygon points="2783,975 2794,969 2797,975 2786,981" stroke-width="1"/>
<polygon points="2782,991 2793,987 2796,993 2786,997" stroke-width="1"/>
<polygon points="2760,972 2767,976 2768,990 2760,986" stroke-width="1"/>
<path d="M2760 972L2768 990" stroke-width="2"/>
<path d="M2767 976L2760 986" stroke-width="2"/>
<polygon points="1495,852.5 1658.5,727 1670,943.5 1505,1068.5"/>
<polygon points="1136.7,638.3 1495,852.5 1505,1068.5 1497,1066 1491,918 1152,724 1156,857 1149.5,859.5"/>
<path d="M1156 857L1256 782"/>
<path d="M1323 818L1368 786"/>
<polygon points="1148.5,655 1312,752 1315,807 1151.5,712"/>
<polygon points="1322,758 1484,853 1487,907 1325,813"/>
<polyline points="1152,707 1191,680" fill="none" stroke-width="4"/>
<polygon points="1136.7,638.3 1300,516.7 1658.5,727 1495,852.5"/>
<polygon points="1203.3,551.7 1258.3,511.7 1350,563.3 1355,619.3 1300,659.3 1208.3,607.7"/>
<polyline points="1203.3,551.7 1295,603.3 1350,563.3" fill="none"/>
<path d="M1295 603.3L1300 659.3"/>
<polygon points="1226.7,554 1253.3,534 1275,545.5 1250,567" fill="#111" stroke-width="3.5"/>
<polygon points="1229,550.5 1253.5,532 1272,542 1248,561" stroke-width="2.5"/>
<ellipse cx="1216.7" cy="607" rx="4" ry="4.5" fill="#222" stroke-width="2"/>
<ellipse cx="1216.7" cy="607" rx="1.5" ry="2" stroke-width="0.5"/>
<polygon points="1249.5,592 1254,594 1256.5,634 1252,632" fill="#111" stroke-width="2"/>
<ellipse cx="1249.5" cy="631.5" rx="4" ry="3.2" fill="#222" stroke-width="1.5"/>
<polygon points="1260.8,598.3 1265.3,600.3 1267.8,640.3 1263.3,638.3" fill="#111" stroke-width="2"/>
<ellipse cx="1260.8" cy="637.8" rx="4" ry="3.2" fill="#222" stroke-width="1.5"/>
<polygon points="1272.1,604.6 1276.6,606.6 1279.1,646.6 1274.6,644.6" fill="#111" stroke-width="2"/>
<ellipse cx="1272.1" cy="644.1" rx="4" ry="3.2" fill="#222" stroke-width="1.5"/>
<polygon points="1283.4,610.9 1287.9,612.9 1290.4,652.9 1285.9,650.9" fill="#111" stroke-width="2"/>
<ellipse cx="1283.4" cy="650.4" rx="4" ry="3.2" fill="#222" stroke-width="1.5"/>
<polygon points="1348.3,671.7 1376.7,650 1449,687.5 1417,716"/>
<polyline points="1348.5,675 1417,719.5 1449,691" fill="none" stroke-width="3"/>
<polygon points="1393.5,640 1406.5,646 1406.5,685 1400,688 1393.5,683" stroke-width="4"/>
<polygon points="1336.7,535 1448.3,598.3 1450.5,672 1338.5,608.5"/>
<polyline points="1338,532 1451,596 1453.5,670" fill="none"/>
<polygon points="1427.5,692.5 1480,652.5 1592.5,717.5 1598.5,766.5 1546,806.5 1433.5,741.5"/>
<polyline points="1427.5,692.5 1540,757.5 1592.5,717.5" fill="none"/>
<path d="M1540 757.5L1546 806.5"/>
<polygon points="1439.5,709 1444.1,711.5 1446.5,741.5 1441.9,739" fill="#111" stroke-width="1.5"/>
<polygon points="1448.4,714.1 1453,716.6 1455.4,746.6 1450.8,744.1" fill="#111" stroke-width="1.5"/>
<polygon points="1457.3,719.2 1461.9,721.7 1464.3,751.7 1459.7,749.2" fill="#111" stroke-width="1.5"/>
<polygon points="1466.2,724.3 1470.8,726.8 1473.2,756.8 1468.6,754.3" fill="#111" stroke-width="1.5"/>
<polygon points="1475.1,729.4 1479.7,731.9 1482.1,761.9 1477.5,759.4" fill="#111" stroke-width="1.5"/>
<polygon points="1484,734.5 1488.6,737 1491,767 1486.4,764.5" fill="#111" stroke-width="1.5"/>
<polygon points="1492.9,739.6 1497.5,742.1 1499.9,772.1 1495.3,769.6" fill="#111" stroke-width="1.5"/>
<polygon points="1501.8,744.7 1506.4,747.2 1508.8,777.2 1504.2,774.7" fill="#111" stroke-width="1.5"/>
<polygon points="1510.7,749.8 1515.3,752.3 1517.7,782.3 1513.1,779.8" fill="#111" stroke-width="1.5"/>
<polygon points="1519.6,754.9 1524.2,757.4 1526.6,787.4 1522,784.9" fill="#111" stroke-width="1.5"/>
<polygon points="1528.5,760 1533.1,762.5 1535.5,792.5 1530.9,790" fill="#111" stroke-width="1.5"/>
<ellipse cx="2373.6" cy="664" rx="6.5" ry="4" stroke-width="3.5"/>
<ellipse cx="2473.5" cy="719" rx="6.5" ry="4" stroke-width="3.5"/>
<ellipse cx="2529.8" cy="672.1" rx="6.5" ry="4" stroke-width="3.5"/>
<polygon points="2361.5,649 2423,598 2538,655 2538,661 2476.5,712 2361.5,655" stroke-width="4"/>
<polyline points="2361.5,649 2476.5,706 2538,655" fill="none" stroke-width="4"/>
<path d="M2476.5 706L2476.5 712" stroke-width="4"/>
<polygon points="2369.2,634.6 2380.2,634.6 2380.2,656.6 2369.2,656.6" stroke-width="3.5"/>
<polygon points="2467,687 2478,687 2478,709 2467,709" stroke-width="3.5"/>
<polygon points="2523.1,642.1 2534.1,642.1 2534.1,664.1 2523.1,664.1" stroke-width="3.5"/>
<polygon points="2361.5,622 2423,571 2538,628 2538,634 2476.5,685 2361.5,628" stroke-width="4"/>
<polyline points="2361.5,622 2476.5,679 2538,628" fill="none" stroke-width="4"/>
<path d="M2476.5 679L2476.5 685" stroke-width="4"/>
<polygon points="2395.4,626.4 2440.9,588.7 2519.1,627.4 2473.6,665.2" stroke-width="5.5"/>
<polygon points="2395.4,621.4 2440.9,583.7 2519.1,622.4 2473.6,660.2" stroke-width="3"/>
<polygon points="2473.5,654.1 2445.3,640.1 2479.4,611.8 2507.6,625.8" stroke-width="3.5"/>
<path d="M2410.1 620.6L2461.8 598.1" stroke-width="6.5"/>
<path d="M2426.6 582.7L2439.1 636" stroke-width="6.5"/>
<path d="M2424.4 603.6L2445.2 636.1" stroke-width="6.5"/>
<path d="M2412.1 612.6L2426.6 586.7" stroke-width="5"/>
<path d="M2420.1 618.6 Q2438.1 598.6 2447.2 632.1" fill="none" stroke-width="3.5"/>
<polygon points="2380.7,589.9 2382.7,609.9 2402.5,627 2404.9,609.1" fill="#111" stroke-width="3"/>
<polygon points="2481.3,616.1 2481.3,624.1 2493.5,609.5 2493.5,601.5" fill="#111" stroke-width="3"/>
<polygon points="2419.4,613.8 2456.9,645.2 2456.9,655.2 2419.4,623.8" stroke-width="3.5"/>
<polygon points="2348,537 2469,593 2530,540 2530.2,576.6 2471,628 2353.6,573.7" fill="#111" stroke-width="3.5"/>
<polygon points="2465.4,595.3 2432.7,580.2 2432.7,583.7 2465.4,598.8" stroke="none"/>
<polygon points="2470.8,595.4 2487.3,581.1 2487.3,584.6 2470.8,598.9" stroke="none"/>
<polygon points="2425.4,576.8 2394,562.3 2394,565.8 2425.4,580.3" stroke="none"/>
<polygon points="2491,577.9 2506.8,564.1 2506.8,567.6 2491,581.4" stroke="none"/>
<polygon points="2386.7,558.9 2351.6,542.7 2351.6,546.2 2386.7,562.4" stroke="none"/>
<polygon points="2510.5,561 2528.2,545.6 2528.2,549.1 2510.5,564.5" stroke="none"/>
<polygon points="2465.4,602.8 2446,593.9 2446,604.4 2465.4,613.3" stroke="none"/>
<polygon points="2441.2,591.6 2420.6,582.1 2420.6,592.6 2441.2,602.1" stroke="none"/>
<polygon points="2414.6,579.3 2395.2,570.3 2395.2,580.8 2414.6,589.8" stroke="none"/>
<polygon points="2390.3,568.1 2369.8,558.6 2369.8,569.1 2390.3,578.6" stroke="none"/>
<polygon points="2364.9,556.3 2351.6,550.2 2351.6,560.7 2364.9,566.8" stroke="none"/>
<polygon points="2472.7,600.8 2489.7,586 2489.7,596.5 2472.7,611.3" stroke="none"/>
<polygon points="2493.4,582.8 2509.3,569 2509.3,579.5 2493.4,593.3" stroke="none"/>
<polygon points="2512.9,565.8 2526.9,553.6 2526.9,564.1 2512.9,576.3" stroke="none"/>
<polygon points="2464.2,616.8 2414.6,593.8 2414.6,597.3 2464.2,620.3" stroke="none"/>
<polygon points="2471.4,615.9 2496.4,594.1 2496.4,597.6 2471.4,619.4" stroke="none"/>
<polygon points="2402.4,588.2 2352.8,565.2 2352.8,568.7 2402.4,591.7" stroke="none"/>
<polygon points="2502.6,588.9 2527.6,567.1 2527.6,570.6 2502.6,592.4" stroke="none"/>
<polygon points="2347,528 2469,588 2530,535 2530,541 2469,594 2347,534" fill="#111" stroke-width="3.5"/>
<polygon points="2347,528 2408,475 2530,535 2469,588" stroke-width="3.5"/>
<polygon points="2405,478 2417,469 2528,526 2529,537 2519,546 2405,489" stroke-width="3.5"/>
<polyline points="2405,478 2519,535 2528,526" fill="none" stroke-width="3"/>
<path d="M2519 535L2519 546" stroke-width="3"/>
<ellipse cx="2500" cy="523" rx="2" ry="1.6" fill="#111" stroke-width="1"/>
<ellipse cx="2470" cy="505" rx="2" ry="1.6" fill="#111" stroke-width="1"/>
<polygon points="2248,407 2633,606 2592,642 2215,438" fill="#111" stroke-width="4"/>
<polygon points="2251.3,410.6 2626.7,605 2624.3,607.2 2249.3,412.5" stroke="none"/>
<polygon points="2244.3,417.2 2618.2,612.6 2612,618 2239.4,421.8" stroke="none"/>
<polygon points="2231.8,429 2602.6,626.3 2600.2,628.4 2229.8,430.8" stroke="none"/>
<polygon points="2237.5,440.8 2257,451.3 2254.3,453.8 2234.8,443.3" stroke="none"/>
<polygon points="2291.6,469.8 2311,480.3 2308.2,482.8 2288.8,472.4" stroke="none"/>
<polygon points="2345.6,498.8 2365.1,509.3 2362.2,511.9 2342.8,501.4" stroke="none"/>
<polygon points="2399.7,527.8 2419.2,538.3 2416.2,541 2396.8,530.5" stroke="none"/>
<polygon points="2453.8,556.8 2473.3,567.3 2470.2,570 2450.8,559.6" stroke="none"/>
<polygon points="2507.9,585.8 2527.3,596.3 2524.2,599.1 2504.7,588.6" stroke="none"/>
<polygon points="2561.9,614.9 2581.4,625.3 2578.2,628.2 2558.7,617.7" stroke="none"/>
<ellipse cx="2598.7" cy="630.6" rx="5" ry="3.5" stroke-width="1.5" transform="rotate(-40 2598.7 630.6)"/>
<polygon points="2282.7,430 2295.3,419 2309.3,426 2309.3,433 2296.7,444 2282.7,437" stroke-width="3"/>
<polyline points="2282.7,430 2296.7,437 2309.3,426" fill="none" stroke-width="3"/>
<path d="M2296.7 437L2296.7 444" stroke-width="3"/>
<polygon points="2293,412 2310,408 2312,428 2296,432" fill="#111" stroke-width="3"/>
<polygon points="2276.5,396 2287.5,396 2288.5,437 2277.5,437" stroke-width="3.5"/>
<ellipse cx="2268" cy="374" rx="12" ry="17" fill="#111" stroke-width="3" transform="rotate(-20 2268 374)"/>
<polygon points="2262,359 2283,362 2294,392 2272,390" fill="#111" stroke-width="3"/>
<ellipse cx="2289" cy="381" rx="10.5" ry="17.5" transform="rotate(-15 2289 381)"/>
<ellipse cx="2290" cy="382" rx="5" ry="9" fill="#111" stroke-width="2" transform="rotate(-15 2290 382)"/>
<ellipse cx="2291" cy="380" rx="2" ry="3.5" stroke-width="1" transform="rotate(-15 2291 380)"/>
<polygon points="2407,492 2430,478 2460,493 2461,506 2442,518 2408,503" stroke-width="3.5"/>
<polyline points="2407,492 2441,508 2460,493" fill="none" stroke-width="3"/>
<path d="M2441 508L2442 518" stroke-width="3"/>
<polygon points="2443,488 2456,484 2460,500 2449,504" stroke-width="3.5"/>
<polygon points="2429,470 2440,470 2441,520 2430,520" stroke-width="3.5"/>
<ellipse cx="2434.5" cy="458.5" rx="9" ry="13" stroke-width="8.5" transform="rotate(-18 2434.5 458.5)"/>
<polygon points="2577,586 2594,576 2616,587 2616,596 2600,606 2578,595" stroke-width="3.5"/>
<ellipse cx="2612" cy="576" rx="5" ry="5" fill="#111" stroke-width="2"/>
<polygon points="2585.5,556 2594.5,556 2595.5,594 2586.5,594" stroke-width="3.5"/>
<polygon points="2575,536 2598,533 2603,539 2602,556 2580,558 2575,552" fill="#111" stroke-width="3"/>
<ellipse cx="2587.5" cy="546.5" rx="8" ry="7" stroke-width="3"/>
<ellipse cx="1938.5" cy="1045" rx="6.5" ry="4" stroke-width="3.5"/>
<ellipse cx="2038.5" cy="1100" rx="6.5" ry="4" stroke-width="3.5"/>
<ellipse cx="2094.8" cy="1053.1" rx="6.5" ry="4" stroke-width="3.5"/>
<polygon points="1926.5,1030 1988,979 2103,1036 2103,1042 2041.5,1093 1926.5,1036" stroke-width="4"/>
<polyline points="1926.5,1030 2041.5,1087 2103,1036" fill="none" stroke-width="4"/>
<path d="M2041.5 1087L2041.5 1093" stroke-width="4"/>
<polygon points="1934.2,1015.6 1945.2,1015.6 1945.2,1037.6 1934.2,1037.6" stroke-width="3.5"/>
<polygon points="2032,1068 2043,1068 2043,1090 2032,1090" stroke-width="3.5"/>
<polygon points="2088.1,1023.1 2099.1,1023.1 2099.1,1045.1 2088.1,1045.1" stroke-width="3.5"/>
<polygon points="1926.5,1003 1988,952 2103,1009 2103,1015 2041.5,1066 1926.5,1009" stroke-width="4"/>
<polyline points="1926.5,1003 2041.5,1060 2103,1009" fill="none" stroke-width="4"/>
<path d="M2041.5 1060L2041.5 1066" stroke-width="4"/>
<polygon points="1960.4,1007.4 2005.9,969.7 2084.1,1008.4 2038.6,1046.2" stroke-width="5.5"/>
<polygon points="1960.4,1002.4 2005.9,964.7 2084.1,1003.4 2038.6,1041.2" stroke-width="3"/>
<polygon points="2038.5,1035.1 2010.3,1021.1 2044.4,992.8 2072.6,1006.8" stroke-width="3.5"/>
<path d="M1975.1 1001.6L2026.8 974.1" stroke-width="6.5"/>
<path d="M1991.6 958.7L2004.1 1017" stroke-width="6.5"/>
<path d="M1989.4 984.6L2010.2 1017.1" stroke-width="6.5"/>
<path d="M1977.1 993.6L1991.6 962.7" stroke-width="5"/>
<path d="M1985.1 999.6 Q2003.1 979.6 2012.2 1013.1" fill="none" stroke-width="3.5"/>
<polygon points="1945.7,965.9 1947.7,985.9 1967.5,1003 1969.9,985.1" fill="#111" stroke-width="3"/>
<polygon points="2046.3,992.1 2046.3,1000.1 2058.5,985.5 2058.5,977.5" fill="#111" stroke-width="3"/>
<polygon points="1984.4,989.8 2022,1021.2 2022,1031.2 1984.4,999.8" stroke-width="3.5"/>
<polygon points="1913,913 2034,969 2095,916 2095.2,952.6 2036,1004 1918.6,949.7" fill="#111" stroke-width="3.5"/>
<polygon points="2030.4,971.3 1997.7,956.2 1997.7,959.7 2030.4,974.8" stroke="none"/>
<polygon points="2035.8,971.4 2052.3,957.1 2052.3,960.6 2035.8,974.9" stroke="none"/>
<polygon points="1990.4,952.8 1959,938.3 1959,941.8 1990.4,956.3" stroke="none"/>
<polygon points="2056,953.9 2071.8,940.1 2071.8,943.6 2056,957.4" stroke="none"/>
<polygon points="1951.7,934.9 1916.6,918.7 1916.6,922.2 1951.7,938.4" stroke="none"/>
<polygon points="2075.5,937 2093.2,921.6 2093.2,925.1 2075.5,940.5" stroke="none"/>
<polygon points="2030.4,978.8 2011,969.9 2011,980.4 2030.4,989.3" stroke="none"/>
<polygon points="2006.2,967.6 1985.6,958.1 1985.6,968.6 2006.2,978.1" stroke="none"/>
<polygon points="1979.5,955.3 1960.2,946.3 1960.2,956.8 1979.5,965.8" stroke="none"/>
<polygon points="1955.3,944.1 1934.8,934.6 1934.8,945.1 1955.3,954.6" stroke="none"/>
<polygon points="1929.9,932.3 1916.6,926.2 1916.6,936.7 1929.9,942.8" stroke="none"/>
<polygon points="2037.7,976.8 2054.7,962 2054.7,972.5 2037.7,987.3" stroke="none"/>
<polygon points="2058.4,958.8 2074.3,945 2074.3,955.5 2058.4,969.3" stroke="none"/>
<polygon points="2077.9,941.8 2091.9,929.6 2091.9,940.1 2077.9,952.3" stroke="none"/>
<polygon points="2029.2,992.8 1979.5,969.8 1979.5,973.3 2029.2,996.3" stroke="none"/>
<polygon points="2036.4,991.9 2061.4,970.1 2061.4,973.6 2036.4,995.4" stroke="none"/>
<polygon points="1967.5,964.2 1917.8,941.2 1917.8,944.7 1967.5,967.7" stroke="none"/>
<polygon points="2067.6,964.9 2092.6,943.1 2092.6,946.6 2067.6,968.4" stroke="none"/>
<polygon points="1912,904 2034,964 2095,911 2095,917 2034,970 1912,910" fill="#111" stroke-width="3.5"/>
<polygon points="1912,904 1973,851 2095,911 2034,964" stroke-width="3.5"/>
<polygon points="1970,855 1981,848 2092,905 2092,917 2083,925 1970,866" stroke-width="3.5"/>
<polyline points="1970,855 2083,913 2092,905" fill="none" stroke-width="3"/>
<path d="M2083 913L2083 925" stroke-width="3"/>
<ellipse cx="2060" cy="898" rx="2" ry="1.6" fill="#111" stroke-width="1"/>
<ellipse cx="2000" cy="866" rx="2" ry="1.6" fill="#111" stroke-width="1"/>
<ellipse cx="2072" cy="912" rx="2" ry="1.6" fill="#111" stroke-width="1"/>
<polygon points="1835,801 2230,1000 2198,1035 1812,831" fill="#111" stroke-width="4"/>
<polygon points="1838.8,804.6 2224,999 2222.1,1001.1 1837.4,806.4" stroke="none"/>
<polygon points="1834,810.9 2217.3,1006.3 2212.5,1011.6 1830.5,815.4" stroke="none"/>
<polygon points="1825.2,822.3 2205.2,1019.6 2203.3,1021.7 1823.8,824.1" stroke="none"/>
<polygon points="1833,834 1852.9,844.4 1851,846.9 1831.1,836.4" stroke="none"/>
<polygon points="1888.4,863 1908.3,873.5 1906.3,875.9 1886.4,865.5" stroke="none"/>
<polygon points="1943.8,892 1963.7,902.5 1961.6,905 1941.7,894.5" stroke="none"/>
<polygon points="1999.1,921 2019.1,931.5 2016.9,934.1 1997,923.6" stroke="none"/>
<polygon points="2054.5,950 2074.5,960.5 2072.2,963.1 2052.3,952.7" stroke="none"/>
<polygon points="2109.9,979 2129.9,989.5 2127.4,992.2 2107.5,981.7" stroke="none"/>
<polygon points="2165.3,1008 2185.2,1018.5 2182.7,1021.3 2162.8,1010.8" stroke="none"/>
<ellipse cx="2201" cy="1024" rx="5" ry="3.5" stroke-width="1.5" transform="rotate(-40 2201 1024)"/>
<polygon points="1857.8,840.1 1871.2,828.4 1886.2,835.9 1886.2,842.9 1872.8,854.6 1857.8,847.1" stroke-width="3"/>
<polyline points="1857.8,840.1 1872.8,847.6 1886.2,835.9" fill="none" stroke-width="3"/>
<path d="M1872.8 847.6L1872.8 854.6" stroke-width="3"/>
<polygon points="1866.5,796 1876.5,796 1877.5,836 1867.5,836" stroke-width="3.5"/>
<polygon points="1885.5,803 1911.5,816 1924.5,790 1898.5,777" stroke="none"/>
<path d="M1885.5 803L1911.5 816" stroke-width="3.5"/>
<path d="M1898.5 777L1924.5 790" stroke-width="3.5"/>
<ellipse cx="1918" cy="803" rx="9" ry="14.5" stroke-width="3.5" transform="rotate(27.7 1918 803)"/>
<polygon points="1848,767 1864,754 1890,766 1890,800 1874,813 1848,801" stroke-width="3.5"/>
<polyline points="1848,767 1874,779 1890,766" fill="none" stroke-width="3.5"/>
<path d="M1874 779L1874 813" stroke-width="3.5"/>
<polygon points="2003,915 2022,903 2047,915 2047,926 2030,938 2004,926" stroke-width="3.5"/>
<polyline points="2003,915 2029,927 2047,915" fill="none" stroke-width="3"/>
<polygon points="2019,868 2028,868 2029,914 2020,914" stroke-width="3.5"/>
<polygon points="2017,868 2028,856 2029,872" fill="#111" stroke-width="3"/>
<polygon points="2140,982 2158,972 2178,983 2178,993 2162,1003 2141,992" stroke-width="3.5"/>
<polygon points="2156,946 2164,946 2165,984 2157,984" stroke-width="3.5"/>
<polygon points="2144,926 2167,922 2171,929 2170,943 2160,948 2146,944" stroke-width="4"/>
<polygon points="2148,931 2164,928 2165,940 2150,942" stroke-width="2"/>
<ellipse cx="2992" cy="963.9" rx="6.5" ry="4" stroke-width="3.5"/>
<ellipse cx="3091.9" cy="1018.9" rx="6.5" ry="4" stroke-width="3.5"/>
<ellipse cx="3148.2" cy="972" rx="6.5" ry="4" stroke-width="3.5"/>
<polygon points="2979.9,948.9 3041.4,897.9 3156.4,954.9 3156.4,960.9 3094.9,1011.9 2979.9,954.9" stroke-width="4"/>
<polyline points="2979.9,948.9 3094.9,1005.9 3156.4,954.9" fill="none" stroke-width="4"/>
<path d="M3094.9 1005.9L3094.9 1011.9" stroke-width="4"/>
<polygon points="2987.6,934.5 2998.6,934.5 2998.6,956.5 2987.6,956.5" stroke-width="3.5"/>
<polygon points="3085.4,986.9 3096.4,986.9 3096.4,1008.9 3085.4,1008.9" stroke-width="3.5"/>
<polygon points="3141.5,942 3152.5,942 3152.5,964 3141.5,964" stroke-width="3.5"/>
<polygon points="2979.9,921.9 3041.4,870.9 3156.4,927.9 3156.4,933.9 3094.9,984.9 2979.9,927.9" stroke-width="4"/>
<polyline points="2979.9,921.9 3094.9,978.9 3156.4,927.9" fill="none" stroke-width="4"/>
<path d="M3094.9 978.9L3094.9 984.9" stroke-width="4"/>
<polygon points="3013.8,926.3 3059.3,888.6 3137.5,927.3 3092,965.1" stroke-width="5.5"/>
<polygon points="3013.8,921.3 3059.3,883.6 3137.5,922.3 3092,960.1" stroke-width="3"/>
<polygon points="3091.9,954 3063.7,940 3097.8,911.7 3126,925.7" stroke-width="3.5"/>
<path d="M3028.5 920.5L3080.2 885" stroke-width="6.5"/>
<path d="M3045 869.6L3057.5 935.9" stroke-width="6.5"/>
<path d="M3042.8 903.5L3063.6 936" stroke-width="6.5"/>
<path d="M3030.5 912.5L3045 873.6" stroke-width="5"/>
<path d="M3038.5 918.5 Q3056.5 898.5 3065.6 932" fill="none" stroke-width="3.5"/>
<polygon points="2999.1,876.8 3001.1,896.8 3020.9,913.9 3023.3,896" fill="#111" stroke-width="3"/>
<polygon points="3099.7,903 3099.7,911 3111.9,896.4 3111.9,888.4" fill="#111" stroke-width="3"/>
<polygon points="3037.8,900.7 3075.3,932.1 3075.3,942.1 3037.8,910.7" stroke-width="3.5"/>
<polygon points="2966.4,823.9 3087.4,879.9 3148.4,826.9 3148.6,863.5 3089.4,914.9 2972,860.6" fill="#111" stroke-width="3.5"/>
<polygon points="3083.8,882.2 3051.1,867.1 3051.1,870.6 3083.8,885.7" stroke="none"/>
<polygon points="3089.2,882.3 3105.7,868 3105.7,871.5 3089.2,885.8" stroke="none"/>
<polygon points="3043.8,863.7 3012.4,849.2 3012.4,852.7 3043.8,867.2" stroke="none"/>
<polygon points="3109.4,864.8 3125.2,851 3125.2,854.5 3109.4,868.3" stroke="none"/>
<polygon points="3005.1,845.8 2970,829.6 2970,833.1 3005.1,849.3" stroke="none"/>
<polygon points="3128.9,847.9 3146.6,832.5 3146.6,836 3128.9,851.4" stroke="none"/>
<polygon points="3083.8,889.7 3064.4,880.8 3064.4,891.3 3083.8,900.2" stroke="none"/>
<polygon points="3059.6,878.5 3039,869 3039,879.5 3059.6,889" stroke="none"/>
<polygon points="3033,866.2 3013.6,857.2 3013.6,867.7 3033,876.7" stroke="none"/>
<polygon points="3008.8,855 2988.2,845.5 2988.2,856 3008.8,865.5" stroke="none"/>
<polygon points="2983.3,843.2 2970,837.1 2970,847.6 2983.3,853.7" stroke="none"/>
<polygon points="3091.1,887.7 3108.1,872.9 3108.1,883.4 3091.1,898.2" stroke="none"/>
<polygon points="3111.8,869.7 3127.7,855.9 3127.7,866.4 3111.8,880.2" stroke="none"/>
<polygon points="3131.3,852.7 3145.3,840.5 3145.3,851 3131.3,863.2" stroke="none"/>
<polygon points="3082.6,903.7 3033,880.7 3033,884.2 3082.6,907.2" stroke="none"/>
<polygon points="3089.8,902.8 3114.8,881 3114.8,884.5 3089.8,906.3" stroke="none"/>
<polygon points="3020.8,875.1 2971.2,852.1 2971.2,855.6 3020.8,878.6" stroke="none"/>
<polygon points="3121,875.8 3146,854 3146,857.5 3121,879.2" stroke="none"/>
<polygon points="2966.4,818.9 3087.4,874.9 3148.4,821.9 3148.4,827.9 3087.4,880.9 2966.4,824.9" fill="#111" stroke-width="3.5"/>
<polygon points="2966.4,818.9 3027.4,765.9 3148.4,821.9 3087.4,874.9" stroke-width="3.5"/>
<ellipse cx="2982.4" cy="802.9" rx="7" ry="4" fill="#111" stroke-width="2" transform="rotate(-40 2982.4 802.9)"/>
<ellipse cx="3012.5" cy="824" rx="3" ry="2.5" fill="#111" stroke-width="1"/>
<ellipse cx="3050" cy="843" rx="3" ry="2.5" fill="#111" stroke-width="1"/>
<polygon points="3019.1,757.4 3026.1,753.4 3028.1,813.4 3021.1,810.4" fill="#111" stroke-width="3.5"/>
<ellipse cx="3056.1" cy="777.4" rx="29.5" ry="44" transform="rotate(-40.7 3056.1 777.4)"/>
<ellipse cx="3053.1" cy="779.4" rx="28.5" ry="43" transform="rotate(-40.7 3053.1 779.4)"/>
<ellipse cx="3053.1" cy="779.4" rx="24" ry="38" stroke-width="4" transform="rotate(-40.7 3053.1 779.4)"/>
<polygon points="3025.1,803.4 3039.1,799.4 3055.1,809.4 3049.1,821.4 3031.1,815.4" fill="#111" stroke-width="3"/>
<polygon points="3061.1,821.4 3071.1,815.4 3089.1,823.4 3089.1,835.4 3073.1,835.4 3061.1,829.4" fill="#111" stroke-width="3"/>
<polygon points="3090.1,792.4 3098.1,794.4 3100.1,842.4 3092.1,848.4 3084.1,842.4" stroke-width="4"/>
<path d="M3092.1 796.4L3092.1 846.4" stroke-width="3.5"/>
<ellipse cx="3093.1" cy="791.4" rx="5" ry="4" fill="#111" stroke-width="2"/>
<ellipse cx="2534.6" cy="1354" rx="6.5" ry="4" stroke-width="3.5"/>
<ellipse cx="2634.5" cy="1409" rx="6.5" ry="4" stroke-width="3.5"/>
<ellipse cx="2690.8" cy="1362.1" rx="6.5" ry="4" stroke-width="3.5"/>
<polygon points="2522.5,1339 2584,1288 2699,1345 2699,1351 2637.5,1402 2522.5,1345" stroke-width="4"/>
<polyline points="2522.5,1339 2637.5,1396 2699,1345" fill="none" stroke-width="4"/>
<path d="M2637.5 1396L2637.5 1402" stroke-width="4"/>
<polygon points="2530.2,1324.6 2541.2,1324.6 2541.2,1346.6 2530.2,1346.6" stroke-width="3.5"/>
<polygon points="2628,1377 2639,1377 2639,1399 2628,1399" stroke-width="3.5"/>
<polygon points="2684.1,1332.1 2695.1,1332.1 2695.1,1354.1 2684.1,1354.1" stroke-width="3.5"/>
<polygon points="2522.5,1312 2584,1261 2699,1318 2699,1324 2637.5,1375 2522.5,1318" stroke-width="4"/>
<polyline points="2522.5,1312 2637.5,1369 2699,1318" fill="none" stroke-width="4"/>
<path d="M2637.5 1369L2637.5 1375" stroke-width="4"/>
<polygon points="2556.4,1316.4 2601.9,1278.7 2680.1,1317.4 2634.6,1355.2" stroke-width="5.5"/>
<polygon points="2556.4,1311.4 2601.9,1273.7 2680.1,1312.4 2634.6,1350.2" stroke-width="3"/>
<polygon points="2634.5,1344.1 2606.3,1330.1 2640.4,1301.8 2668.6,1315.8" stroke-width="3.5"/>
<path d="M2571.1 1310.6L2622.8 1280.1" stroke-width="6.5"/>
<path d="M2587.6 1264.7L2600.1 1326" stroke-width="6.5"/>
<path d="M2585.4 1293.6L2606.2 1326.1" stroke-width="6.5"/>
<path d="M2573.1 1302.6L2587.6 1268.7" stroke-width="5"/>
<path d="M2581.1 1308.6 Q2599.1 1288.6 2608.2 1322.1" fill="none" stroke-width="3.5"/>
<polygon points="2541.7,1271.9 2543.7,1291.9 2563.5,1309 2565.9,1291.1" fill="#111" stroke-width="3"/>
<polygon points="2642.3,1298.1 2642.3,1306.1 2654.5,1291.5 2654.5,1283.5" fill="#111" stroke-width="3"/>
<polygon points="2580.4,1295.8 2617.9,1327.2 2617.9,1337.2 2580.4,1305.8" stroke-width="3.5"/>
<polygon points="2509,1219 2630,1275 2691,1222 2691.2,1258.6 2632,1310 2514.6,1255.7" fill="#111" stroke-width="3.5"/>
<polygon points="2626.4,1277.3 2593.7,1262.2 2593.7,1265.7 2626.4,1280.8" stroke="none"/>
<polygon points="2631.8,1277.4 2648.3,1263.1 2648.3,1266.6 2631.8,1280.9" stroke="none"/>
<polygon points="2586.4,1258.8 2555,1244.3 2555,1247.8 2586.4,1262.3" stroke="none"/>
<polygon points="2652,1259.9 2667.8,1246.1 2667.8,1249.6 2652,1263.4" stroke="none"/>
<polygon points="2547.7,1240.9 2512.6,1224.7 2512.6,1228.2 2547.7,1244.4" stroke="none"/>
<polygon points="2671.5,1243 2689.2,1227.6 2689.2,1231.1 2671.5,1246.5" stroke="none"/>
<polygon points="2626.4,1284.8 2607,1275.9 2607,1286.4 2626.4,1295.3" stroke="none"/>
<polygon points="2602.2,1273.6 2581.6,1264.1 2581.6,1274.6 2602.2,1284.1" stroke="none"/>
<polygon points="2575.6,1261.3 2556.2,1252.3 2556.2,1262.8 2575.6,1271.8" stroke="none"/>
<polygon points="2551.3,1250.1 2530.8,1240.6 2530.8,1251.1 2551.3,1260.6" stroke="none"/>
<polygon points="2525.9,1238.3 2512.6,1232.2 2512.6,1242.7 2525.9,1248.8" stroke="none"/>
<polygon points="2633.7,1282.8 2650.7,1268 2650.7,1278.5 2633.7,1293.3" stroke="none"/>
<polygon points="2654.4,1264.8 2670.3,1251 2670.3,1261.5 2654.4,1275.3" stroke="none"/>
<polygon points="2673.9,1247.8 2687.9,1235.7 2687.9,1246.2 2673.9,1258.3" stroke="none"/>
<polygon points="2625.2,1298.8 2575.6,1275.8 2575.6,1279.3 2625.2,1302.3" stroke="none"/>
<polygon points="2632.4,1297.9 2657.4,1276.2 2657.4,1279.7 2632.4,1301.4" stroke="none"/>
<polygon points="2563.4,1270.2 2513.8,1247.2 2513.8,1250.7 2563.4,1273.7" stroke="none"/>
<polygon points="2663.6,1270.8 2688.6,1249.1 2688.6,1252.6 2663.6,1274.3" stroke="none"/>
<polygon points="2509,1214 2630,1270 2691,1217 2691,1223 2630,1276 2509,1220" fill="#111" stroke-width="3.5"/>
<polygon points="2509,1214 2570,1161 2691,1217 2630,1270" stroke-width="3.5"/>
<ellipse cx="2525" cy="1198" rx="7" ry="4" fill="#111" stroke-width="2" transform="rotate(-40 2525 1198)"/>
<ellipse cx="2555.1" cy="1219.1" rx="3" ry="2.5" fill="#111" stroke-width="1"/>
<ellipse cx="2592.6" cy="1238.1" rx="3" ry="2.5" fill="#111" stroke-width="1"/>
<polygon points="2561.7,1152.5 2568.7,1148.5 2570.7,1208.5 2563.7,1205.5" fill="#111" stroke-width="3.5"/>
<ellipse cx="2598.7" cy="1172.5" rx="29.5" ry="44" transform="rotate(-40.7 2598.7 1172.5)"/>
<ellipse cx="2595.7" cy="1174.5" rx="28.5" ry="43" transform="rotate(-40.7 2595.7 1174.5)"/>
<ellipse cx="2595.7" cy="1174.5" rx="24" ry="38" stroke-width="4" transform="rotate(-40.7 2595.7 1174.5)"/>
<polygon points="2567.7,1198.5 2581.7,1194.5 2597.7,1204.5 2591.7,1216.5 2573.7,1210.5" fill="#111" stroke-width="3"/>
<polygon points="2603.7,1216.5 2613.7,1210.5 2631.7,1218.5 2631.7,1230.5 2615.7,1230.5 2603.7,1224.5" fill="#111" stroke-width="3"/>
<polygon points="2632.7,1187.5 2640.7,1189.5 2642.7,1237.5 2634.7,1243.5 2626.7,1237.5" stroke-width="4"/>
<path d="M2634.7 1191.5L2634.7 1241.5" stroke-width="3.5"/>
<ellipse cx="2635.7" cy="1186.5" rx="5" ry="4" fill="#111" stroke-width="2"/>
<text x="1235" y="60.8" font-size="66.3">手动球阀</text>
<text x="1525.5" y="148.3" font-size="66.3">涡街流量计</text>
<text x="812.5" y="508.3" font-size="66.3">三级过滤器</text>
<text x="1875.5" y="448.3" font-size="66.3">压力调节阀</text>
<text x="2336" y="352.3" font-size="66.3">LED光源</text>
<text x="1066" y="1010.8" font-size="66.3">纹影采集系统</text>
<text x="1644.5" y="1025.8" font-size="66.3">高速相机</text>
<text x="2382.5" y="1044.8" font-size="66.3">快速阀</text>
<text x="2664.5" y="833.3" font-size="66.3">实验喷管</text>
<text x="2855" y="1151.3" font-size="66.3">纹影主镜</text>
<path d="M1355 77.5L1285 131" stroke-width="3.6"/>
<path d="M1652.5 170L1585 220" stroke-width="3.6"/>
<path d="M887.5 367.5L945 425" stroke-width="3.6"/>
<path d="M2067.5 477.5L2155 570" stroke-width="3.6"/>
<path d="M2476.5 377.5L2427.5 437.5" stroke-width="3.6"/>
<path d="M1844 877.5L1795 939" stroke-width="3.6"/>
<path d="M2479 881L2470 970" stroke-width="3.6"/>
<path d="M2795 855L2755 917.5" stroke-width="3.6"/>
<path d="M3022.5 1012L2982.5 1075.5" stroke-width="3.6"/>
<path d="M2832.5 1155.5L2750 1175.5" stroke-width="3.6"/>
</svg>
</body></html>
